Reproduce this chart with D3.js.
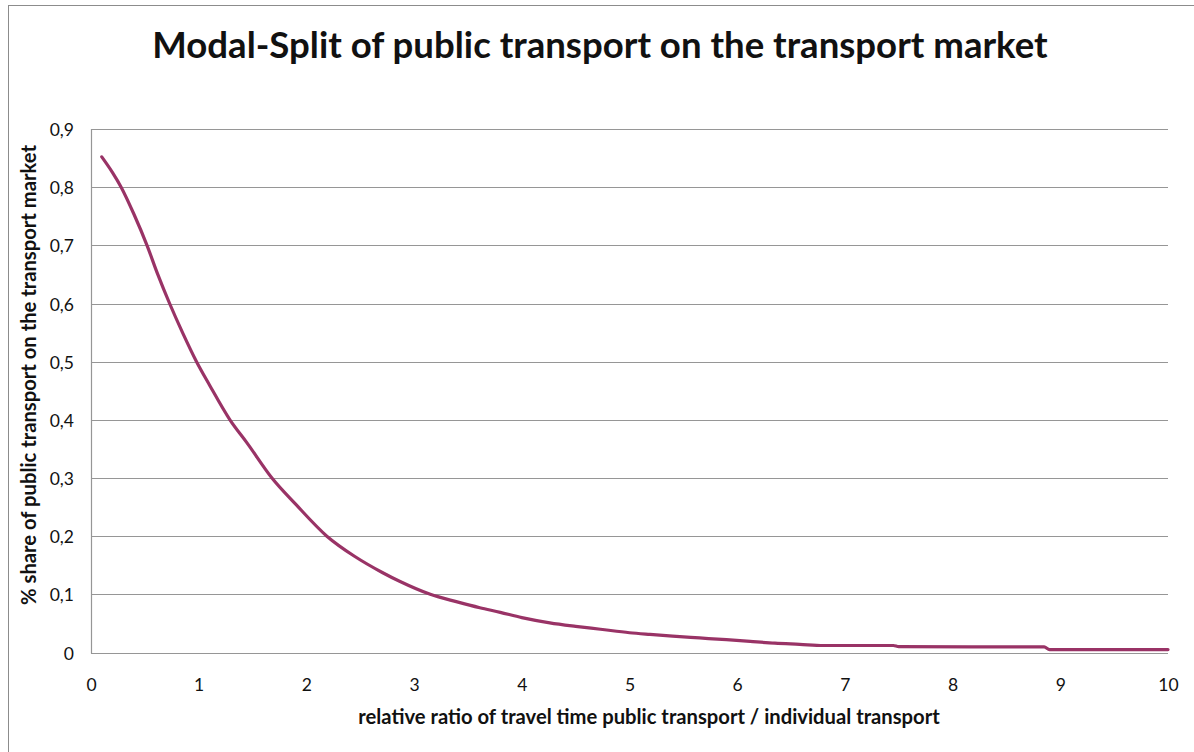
<!DOCTYPE html>
<html>
<head>
<meta charset="utf-8">
<script src="https://cdn.jsdelivr.net/npm/d3@7"></script>
<style>
  html, body { margin: 0; padding: 0; background: #fff; }
  svg { display: block; }
  text { font-family: Lato, "Open Sans", sans-serif; fill: #111; }
</style>
</head>
<body>
<svg id="chart" width="1194" height="752"></svg>
<script>
const titleText = "Modal-Split of public transport on the transport market";
const xAxisTitle = "relative ratio of travel time public transport  / individual transport";
const yAxisTitle = "% share of public transport on the transport market";

const xTicks = [0, 1, 2, 3, 4, 5, 6, 7, 8, 9, 10];
const yTicks = [0, 0.1, 0.2, 0.3, 0.4, 0.5, 0.6, 0.7, 0.8, 0.9];

const ratio = [0.1, 0.2, 0.28, 0.4, 0.52, 0.62, 0.73, 0.85, 0.98, 1.1, 1.29, 1.45, 1.68, 1.9, 2.19, 2.45, 2.7, 2.87, 3.15, 3.4, 3.61, 3.8, 4.0, 4.26, 4.5, 4.73, 5.0, 5.19, 5.4, 5.65, 5.9, 6.12, 6.35, 6.58, 6.8, 7.45, 7.5, 8.85, 8.9, 10];
const share = [0.852, 0.825, 0.80, 0.753, 0.70, 0.65, 0.60, 0.55, 0.50, 0.46, 0.40, 0.36, 0.30, 0.255, 0.20, 0.165, 0.138, 0.122, 0.10, 0.087, 0.077, 0.069, 0.060, 0.051, 0.045, 0.040, 0.034, 0.031, 0.028, 0.025, 0.022, 0.019, 0.016, 0.014, 0.012, 0.012, 0.010, 0.0095, 0.005, 0.005];

const svg = d3.select("#chart");
const L = 91, R = 1168, T = 129, B = 652.5;

// outer chart border
svg.append("rect").attr("x", 8.5).attr("y", 5.5).attr("width", 1200).attr("height", 800)
  .attr("fill", "none").attr("stroke", "#8c8c8c").attr("stroke-width", 1);

const x = d3.scaleLinear().domain([0, 10]).range([L, R]);
const y = d3.scaleLinear().domain([0, 0.9]).range([B, T]);

// gridlines
svg.append("g").selectAll("line").data(yTicks).join("line")
  .attr("x1", L).attr("x2", R)
  .attr("y1", d => Math.round(y(d)) + 0.5).attr("y2", d => Math.round(y(d)) + 0.5)
  .attr("stroke", "#969696").attr("stroke-width", 1.2);

// left axis line
svg.append("line").attr("x1", L + 0.5).attr("x2", L + 0.5).attr("y1", T).attr("y2", B + 1)
  .attr("stroke", "#969696").attr("stroke-width", 1.2);

// y tick labels
const fmt = d => d === 0 ? "0" : d3.format(".1f")(d).replace(".", ",");
const yAxis = d3.axisLeft(y).tickValues(yTicks).tickFormat(fmt).tickSize(0).tickPadding(17);
const gy = svg.append("g").attr("transform", `translate(${L},0)`).call(yAxis);
gy.select(".domain").remove();
gy.selectAll("text").style("font-size", "17.5px").style("font-family", "Lato, sans-serif").attr("fill", "#111").attr("dy", "0.38em");

// x tick labels
const xAxis = d3.axisBottom(x).tickValues(xTicks).tickFormat(d3.format("d")).tickSize(0).tickPadding(26);
const gx = svg.append("g").attr("transform", `translate(0,${B})`).call(xAxis);
gx.select(".domain").remove();
gx.selectAll("text").style("font-size", "17.5px").style("font-family", "Lato, sans-serif").attr("fill", "#111");

// line
const data = ratio.map((r, i) => [r, share[i]]);
svg.append("path").datum(data)
  .attr("fill", "none").attr("stroke", "#993366").attr("stroke-width", 3.2)
  .attr("stroke-linejoin", "round").attr("stroke-linecap", "round")
  .attr("d", d3.line().x(d => x(d[0])).y(d => y(d[1])).curve(d3.curveMonotoneX));

// title
const title = svg.append("text").attr("x", 600).attr("y", 58).attr("text-anchor", "middle")
  .style("font-weight", "bold").style("font-size", "34px").text(titleText);
const tw = title.node().getComputedTextLength();
title.style("font-size", (34 * 896 / tw).toFixed(2) + "px");

// x axis title
const xt = svg.append("text").attr("x", 649).attr("y", 724).attr("text-anchor", "middle")
  .style("font-weight", "bold").style("font-size", "16px").text(xAxisTitle);
const xw = xt.node().getComputedTextLength();
xt.style("font-size", (16 * 582 / xw).toFixed(2) + "px");

// y axis title
const yt = svg.append("text").attr("transform", "translate(36,375) rotate(-90)").attr("text-anchor", "middle")
  .style("font-weight", "bold").style("font-size", "16px").text(yAxisTitle);
const yw = yt.node().getComputedTextLength();
yt.style("font-size", (16 * 460 / yw).toFixed(2) + "px");
</script>
</body>
</html>
